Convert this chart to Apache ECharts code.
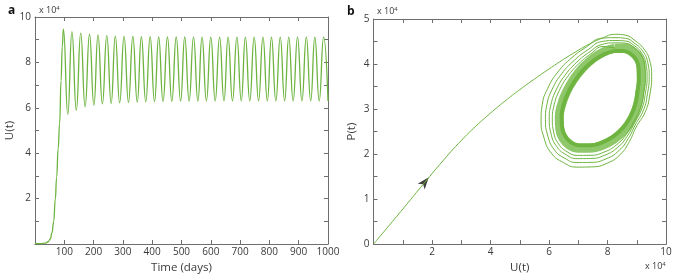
<!DOCTYPE html>
<html><head><meta charset="utf-8">
<script src="https://cdn.jsdelivr.net/npm/echarts@6/dist/echarts.min.js"></script>
<style>html,body{margin:0;padding:0;background:#fff}#c{width:700px;height:279px}</style>
</head><body><div id="c"></div>
<script>
// ---- Panel a: U(t) time series (values in units of 10^4) ----
const riseT = [0, 20, 35, 45, 52, 58, 64, 69, 74, 79, 84, 89, 93];
const riseU = [0.02, 0.02, 0.04, 0.1, 0.22, 0.5, 1.0, 1.95, 2.95, 4.2, 5.3, 7.2, 8.7];
const peakT = [97,126,156,186,215,245,274,304,334,363,393,422,452,482,511,541,570,600,630,659,689,718,748,778,807,837,866,896,926,955,985];
const peakU = [9.47,9.36,9.29,9.24,9.21,9.18,9.16,9.15,9.14,9.13,9.13,9.12,9.12,9.12,9.12,9.11,9.11,9.11,9.11,9.11,9.11,9.11,9.11,9.11,9.11,9.11,9.11,9.11,9.11,9.11,9.11];
const troughT = [112,141,171,201,230,260,289,319,349,378,408,437,467,497,526,556,585,615,645,674,704,733,763,793,822,852,881,911,941,970,1000];
const troughU = [5.71,5.89,6.04,6.12,6.17,6.20,6.22,6.24,6.25,6.26,6.27,6.28,6.28,6.29,6.29,6.29,6.30,6.30,6.30,6.30,6.30,6.30,6.30,6.30,6.30,6.30,6.30,6.30,6.30,6.30,6.30];
const xTicksA = [100,200,300,400,500,600,700,800,900,1000];
const yTicksA = [2,4,6,8,10];

// ---- Panel b: phase plane U vs P (units of 10^4) ----
const inU = [0,0.8,1.6,2.4,3.0,3.5,4.0,4.5,5.0,5.5,6.0,6.5,7.0,7.4,7.8];
const inP = [0,0.62,1.25,1.87,2.30,2.62,2.91,3.18,3.43,3.665,3.89,4.105,4.305,4.449,4.569];
const loop1U = [8.26,8.62,8.92,9.25,9.45,9.51,9.45,9.3,8.98,8.75,8.45,8.0,7.45,6.95,6.5,6.08,5.82,5.73,5.77,5.95,6.3,6.78,7.28,7.78];
const loop1P = [4.66,4.64,4.53,4.33,4.06,3.73,3.33,2.95,2.6,2.28,2.0,1.8,1.715,1.71,1.81,2.02,2.38,2.75,3.1,3.45,3.82,4.14,4.38,4.57];
const loop2U = [8.259,8.613,8.907,9.207,9.378,9.426,9.368,9.235,8.949,8.709,8.395,7.952,7.433,6.957,6.546,6.177,5.952,5.879,5.928,6.105,6.432,6.871,7.337,7.807];
const loop2P = [4.586,4.571,4.47,4.283,4.029,3.717,3.345,2.986,2.648,2.342,2.079,1.894,1.815,1.811,1.904,2.099,2.422,2.764,3.097,3.434,3.783,4.087,4.32,4.499];
const loop3U = [8.258,8.607,8.896,9.169,9.315,9.353,9.297,9.179,8.922,8.674,8.347,7.91,7.419,6.963,6.585,6.262,6.067,6.009,6.066,6.241,6.547,6.951,7.387,7.83];
const loop3P = [4.522,4.511,4.418,4.242,4.001,3.706,3.359,3.017,2.69,2.397,2.148,1.975,1.902,1.899,1.985,2.168,2.458,2.776,3.095,3.419,3.75,4.041,4.267,4.438];
const loop4U = [8.258,8.601,8.887,9.139,9.264,9.293,9.239,9.133,8.899,8.645,8.307,7.876,7.407,6.969,6.618,6.33,6.16,6.114,6.177,6.351,6.64,7.016,7.427,7.849];
const loop4P = [4.47,4.463,4.375,4.209,3.979,3.697,3.37,3.043,2.724,2.441,2.205,2.042,1.972,1.97,2.052,2.223,2.488,2.785,3.093,3.408,3.724,4.004,4.224,4.388];
const cycleU = [8.256,8.59,8.867,9.071,9.15,9.16,9.11,9.03,8.85,8.58,8.22,7.8,7.38,6.98,6.69,6.484,6.369,6.35,6.427,6.597,6.848,7.161,7.517,7.891,8.256];
const cycleP = [4.353,4.354,4.28,4.135,3.929,3.677,3.394,3.10,2.80,2.54,2.33,2.19,2.13,2.13,2.20,2.348,2.554,2.807,3.089,3.382,3.665,3.92,4.128,4.276,4.353];
const innerU = [8.223,8.537,8.797,8.989,9.063,9.072,9.025,8.95,8.781,8.527,8.189,7.794,7.399,7.023,6.751,6.557,6.449,6.431,6.503,6.663,6.899,7.193,7.528,7.88,8.223];
const innerP = [4.287,4.288,4.218,4.082,3.888,3.651,3.385,3.109,2.827,2.583,2.385,2.254,2.197,2.197,2.263,2.402,2.596,2.834,3.099,3.374,3.64,3.88,4.075,4.214,4.287];
const arrowU = [1.76];
const arrowP = [1.38];
const xTicksB = [2,4,6,8,10];
const yTicksB = [0,1,2,3,4,5];

const GREEN = '#6db43f';
const AX = '#6e6e6e';
const TXT = '#3a3a3a';
const FONT = 'Open Sans';

const seriesA = [];
riseT.forEach((t,i)=>seriesA.push([t, riseU[i]]));
peakT.forEach((t,i)=>{ seriesA.push([t, peakU[i]]); seriesA.push([troughT[i], troughU[i]]); });

const trajB = [];
[[inU,inP],[loop1U,loop1P],[loop2U,loop2P],[loop3U,loop3P],[loop4U,loop4P],[cycleU.slice(0,1),cycleP.slice(0,1)]]
  .forEach(([us,ps]) => us.forEach((u,i)=>trajB.push([u, ps[i]])));

function frameAxis(base){
  return Object.assign({
    axisLine:{show:true, onZero:false, lineStyle:{color:AX, width:1}},
    axisTick:{show:true, inside:true, length:4, lineStyle:{color:AX}},
    splitLine:{show:false},
    axisLabel:{show:false}
  }, base);
}
const lbl = (fmt, extra) => Object.assign({show:true, color:TXT, fontFamily:FONT, fontSize:10, formatter:fmt}, extra||{});
const minor = {show:true, splitNumber:2, length:4, lineStyle:{color:AX}};
const nameStyle = {color:TXT, fontFamily:FONT, fontSize:11.5};

const chart = echarts.init(document.getElementById('c'), null, {renderer:'canvas'});
chart.setOption({
  animation:false,
  backgroundColor:'#fff',
  grid:[
    {left:35, top:17, width:293, height:231},
    {left:373.5, top:19, width:292.5, height:229.3}
  ],
  xAxis:[
    frameAxis({gridIndex:0, type:'value', position:'bottom', min:0, max:1000, interval:100,
      axisLabel: lbl(v => xTicksA.includes(v) ? String(v) : '', {margin:3}),
      name:'Time (days)', nameLocation:'middle', nameGap:18, nameTextStyle:nameStyle}),
    frameAxis({gridIndex:0, type:'value', position:'top', min:0, max:1000, interval:100}),
    frameAxis({gridIndex:1, type:'value', position:'bottom', min:0, max:10, interval:2, minorTick:minor,
      axisLabel: lbl(v => xTicksB.includes(v) ? String(v) : '', {margin:3}),
      name:'U(t)', nameLocation:'middle', nameGap:17, nameTextStyle:nameStyle}),
    frameAxis({gridIndex:1, type:'value', position:'top', min:0, max:10, interval:2, minorTick:minor})
  ],
  yAxis:[
    frameAxis({gridIndex:0, type:'value', position:'left', min:0, max:10, interval:2, minorTick:minor,
      axisLabel: lbl(v => yTicksA.includes(v) ? String(v) : '', {margin:4}),
      name:'U(t)', nameLocation:'middle', nameGap:19, nameTextStyle:nameStyle}),
    frameAxis({gridIndex:0, type:'value', position:'right', min:0, max:10, interval:2, minorTick:minor}),
    frameAxis({gridIndex:1, type:'value', position:'left', min:0, max:5, interval:1, minorTick:minor,
      axisLabel: lbl(v => yTicksB.includes(v) ? String(v) : '', {margin:4}),
      name:'P(t)', nameLocation:'middle', nameGap:16, nameTextStyle:nameStyle}),
    frameAxis({gridIndex:1, type:'value', position:'right', min:0, max:5, interval:1, minorTick:minor})
  ],
  series:[
    {type:'line', xAxisIndex:0, yAxisIndex:0, data:seriesA, showSymbol:false, smooth:0.5, smoothMonotone:'x',
      lineStyle:{color:GREEN, width:1.3}, clip:true},
    {type:'line', xAxisIndex:2, yAxisIndex:2, data:cycleU.map((u,i)=>[u, cycleP[i]]), showSymbol:false, smooth:0.5,
      lineStyle:{color:'#8fc86b', width:9}},
    {type:'line', xAxisIndex:2, yAxisIndex:2, data:innerU.map((u,i)=>[u, innerP[i]]), showSymbol:false, smooth:0.5,
      lineStyle:{color:'#6fb441', width:4}},
    {type:'line', xAxisIndex:2, yAxisIndex:2, data:trajB, showSymbol:false, smooth:0.5,
      lineStyle:{color:GREEN, width:1}},
    {type:'scatter', xAxisIndex:2, yAxisIndex:2, data:arrowU.map((u,i)=>[u, arrowP[i]]),
      symbol:'path://M0,-7 L4.5,5 L0,2 L-4.5,5 Z', symbolSize:[9,12], symbolRotate:-39,
      itemStyle:{color:'#111'}}
  ],
  graphic:[
    {type:'text', left:8, top:5, style:{text:'a', font:'bold 12px "Open Sans"', fill:'#111'}},
    {type:'text', left:347, top:6, style:{text:'b', font:'bold 12px "Open Sans"', fill:'#111'}},
    {type:'text', left:39, top:5, style:{text:'x 10{s|4}', rich:{s:{fontSize:6, fontFamily:FONT, fill:TXT, verticalAlign:'top', padding:[0,0,5,0]}}, fontSize:9, fontFamily:FONT, fill:TXT}},
    {type:'text', left:377, top:6, style:{text:'x 10{s|4}', rich:{s:{fontSize:6, fontFamily:FONT, fill:TXT, verticalAlign:'top', padding:[0,0,5,0]}}, fontSize:9, fontFamily:FONT, fill:TXT}},
    {type:'text', left:645, top:261, style:{text:'x 10{s|4}', rich:{s:{fontSize:6, fontFamily:FONT, fill:TXT, verticalAlign:'top', padding:[0,0,5,0]}}, fontSize:9, fontFamily:FONT, fill:TXT}}
  ]
});
</script></body></html>
